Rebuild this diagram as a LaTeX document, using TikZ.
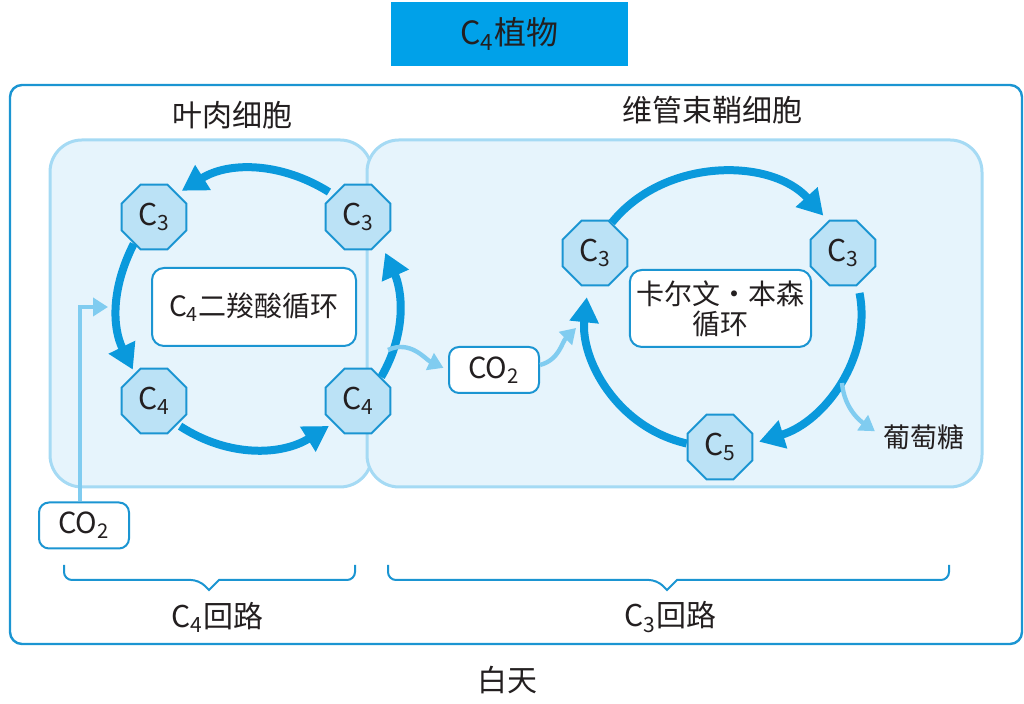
\documentclass[tikz,border=0pt]{standalone}
\usepackage{fontspec}
\setmainfont{Noto Sans CJK SC}
\usepackage{tikz}
\usetikzlibrary{shapes.geometric, arrows.meta, positioning}
\definecolor{titleblue}{HTML}{00A1E9}
\definecolor{lineblue}{HTML}{1B95D2}
\definecolor{cycleblue}{HTML}{0A99DC}
\definecolor{flowblue}{HTML}{80CCF0}
\definecolor{cellfill}{HTML}{E6F4FC}
\definecolor{cellline}{HTML}{A5DAF4}
\definecolor{octfill}{HTML}{BBE2F6}
\definecolor{inkgray}{HTML}{231F20}

\begin{document}
\begin{tikzpicture}[
    x=0.5pt, y=0.5pt,
    every node/.style={text=inkgray},
    titlebox/.style={fill=titleblue, minimum width=118.5pt, minimum height=32pt, font=\fontsize{16}{18}\selectfont},
    frame/.style={draw=lineblue, line width=1.2pt, rounded corners=6pt},
    cell/.style={draw=cellline, fill=cellfill, line width=1.5pt, rounded corners=16pt},
    carbon/.style={regular polygon, regular polygon sides=8, minimum size=35pt, inner sep=0pt,
        draw=lineblue, fill=octfill, line width=1pt, font=\fontsize{15}{17}\selectfont},
    cyclebox/.style={draw=lineblue, fill=white, line width=1pt, rounded corners=6pt, align=center,
        font=\fontsize{14}{15}\selectfont},
    gasbox/.style={draw=lineblue, fill=white, line width=1pt, rounded corners=5pt,
        minimum width=45pt, minimum height=23pt, font=\fontsize{14.5}{16}\selectfont},
    tag/.style={font=\fontsize{15}{17}\selectfont},
    cyc/.style={draw=cycleblue, line width=4pt, -{Triangle[length=12.5pt, width=14pt]}},
    flow/.style={draw=flowblue, line width=2.2pt, -{Triangle[length=7.5pt, width=9pt]}},
    brace/.style={draw=lineblue, line width=1pt}
]
  \useasboundingbox (0,0) rectangle (1024,704);

  % Title and frame
  \node[titlebox] (title) at (509.5,670) {C\textsubscript{4}植物};
  \draw[frame] (10,60) rectangle (1022,619);

  % Cells
  \draw[cell] (50,217) rectangle (372,564);
  \draw[cell] (367,217) rectangle (982,564);
  \node[tag] (meso)   at (232,589) {叶肉细胞};
  \node[tag] (sheath) at (712,594) {维管束鞘细胞};

  % C4 cycle
  \node[carbon] (lA) at (154,487) {C\textsubscript{3}};
  \node[carbon] (lB) at (358,487) {C\textsubscript{3}};
  \node[carbon] (lC) at (154,303) {C\textsubscript{4}};
  \node[carbon] (lD) at (358,303) {C\textsubscript{4}};
  \node[cyclebox, minimum width=102pt, minimum height=39pt] (c4cyc) at (254,397) {C\textsubscript{4}二羧酸循环};

  \draw[cyc, shorten <=2.5pt, shorten >=2.5pt] (lB.138) to[out=148, in=32] (lA.45);
  \draw[cyc, shorten >=2pt] (lA.233) to[out=243, in=116] (lC.125);
  \draw[cyc, shorten <=1.5pt, shorten >=2.5pt] (lC.-45) to[out=327, in=212] (lD.222);
  \draw[cyc, shorten >=6pt] (lD.46) to[out=60, in=-66] (lB.-48);

  % Calvin-Benson cycle
  \node[carbon] (rA) at (595,451) {C\textsubscript{3}};
  \node[carbon] (rB) at (843,451) {C\textsubscript{3}};
  \node[carbon] (rC) at (720,257) {C\textsubscript{5}};
  \node[cyclebox, minimum width=90.5pt, minimum height=38.5pt] (calvin) at (720.5,395.5) {卡尔文・本森\\循环};

  \draw[cyc, shorten >=3.5pt] (rA.61) to[out=51, in=132] (rB.115);
  \draw[cyc, shorten <=4pt, shorten >=3pt] (rB.-65) to[out=-79, in=17] (rC.6);
  \draw[cyc, shorten >=5.5pt] (rC.174) to[out=167, in=-96] (rA.258);

  % CO2 and glucose
  \node[gasbox] (co2a) at (84,178.5) {CO\textsubscript{2}};
  \node[gasbox] (co2b) at (494,334) {CO\textsubscript{2}};
  \node[font=\fontsize{13.5}{15}\selectfont, inner sep=0pt] (glu) at (924,267) {葡萄糖};
  \coordinate (inL)  at (108,397);
  \coordinate (outL) at (388,354);
  \coordinate (inR)  at (576,376);
  \coordinate (outR) at (842,321);

  \draw[flow] ([xshift=-2pt]co2a.north) |- (inL);
  \draw[flow, shorten >=2.5pt] (outL) to[out=25, in=155] (co2b.west);
  \draw[flow] ([yshift=2.5pt]co2b.east) to[out=15, in=225] (inR);
  \draw[flow, shorten >=5pt] (outR) to[out=-85, in=145] (glu.west);

  % Braces
  \draw[brace] (64,139) [rounded corners=4pt] |- (199,124) [sharp corners] -- (209,114) -- (219,124)
    [rounded corners=4pt] -| (355,139);
  \draw[brace] (388,139) [rounded corners=4pt] |- (657,124) [sharp corners] -- (667,114) -- (677,124)
    [rounded corners=4pt] -| (949,139);
  \node[tag] (c4loop) at (217.5,87) {C\textsubscript{4}回路};
  \node[tag] (c3loop) at (670.5,87) {C\textsubscript{3}回路};
  \node[tag] (day) at (507,24) {白天};
\end{tikzpicture}
\end{document}
